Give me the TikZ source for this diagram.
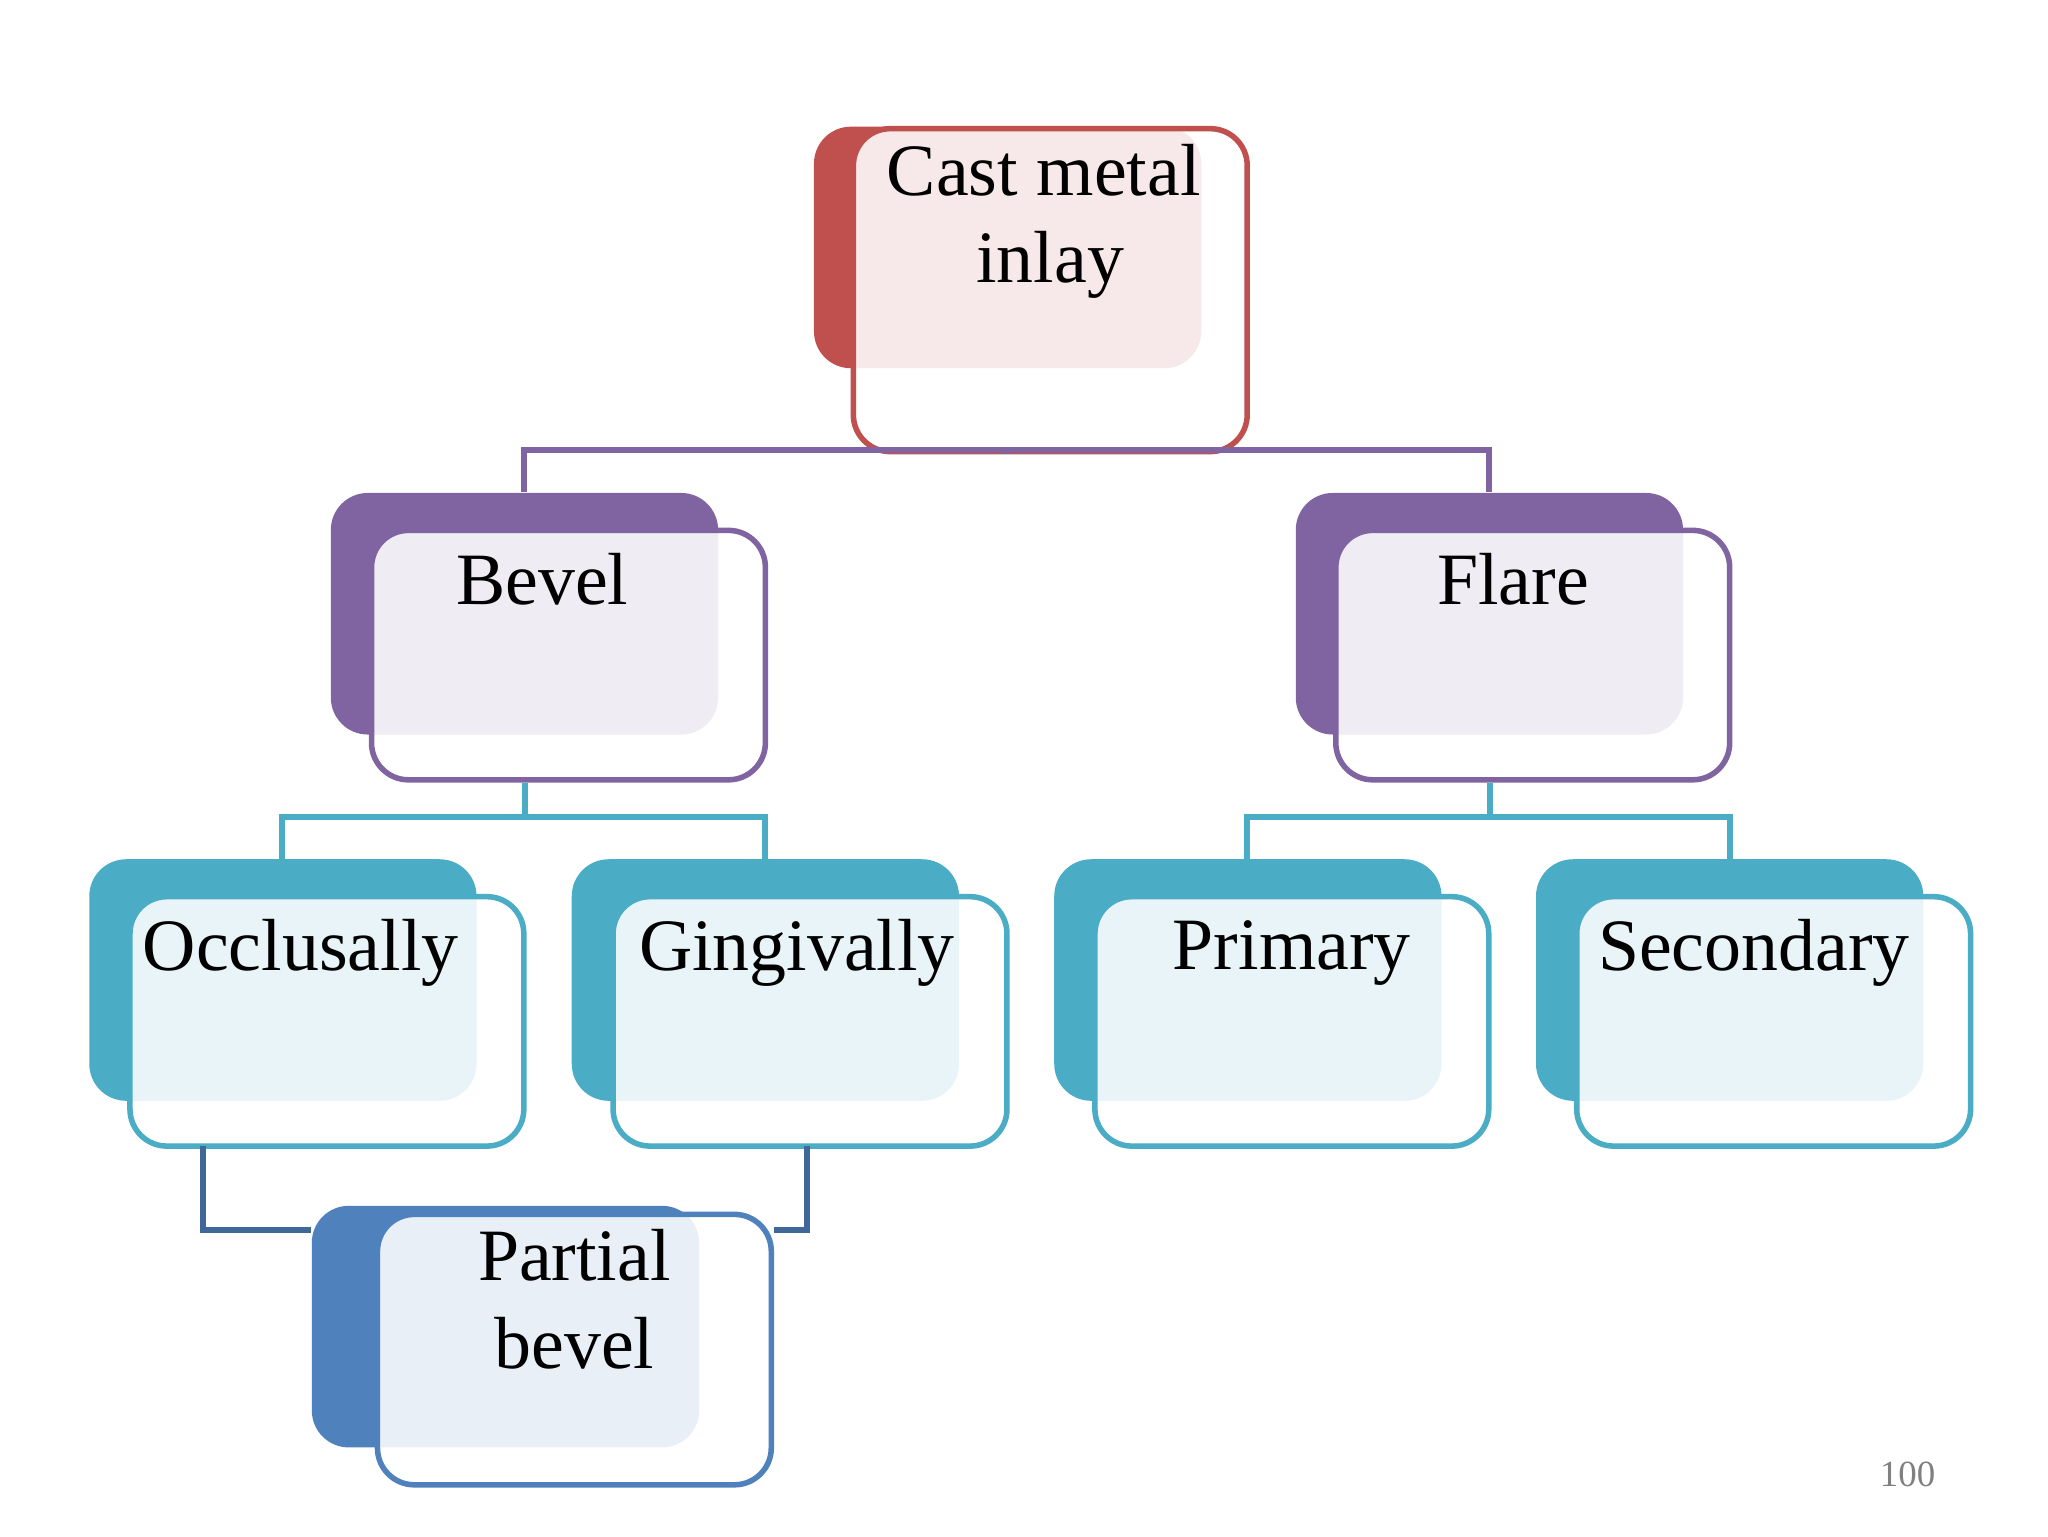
\documentclass[tikz,border=0pt]{standalone}
\usepackage{fontspec}
\setmainfont{Liberation Serif}
\definecolor{redC}{HTML}{C0504D}
\definecolor{purpC}{HTML}{8064A2}
\definecolor{tealC}{HTML}{4BACC6}
\definecolor{blueC}{HTML}{4F81BD}
\tikzset{
  back/.style={draw=none, fill=#1, rounded corners=8pt, minimum width=2.95cm, minimum height=1.84cm},
  front/.style={draw=#1, line width=1.2pt, fill=white, fill opacity=0.88, text opacity=1,
    rounded corners=8pt, minimum width=3.0cm, minimum height=1.9cm, align=center,
    font=\fontsize{16}{19}\selectfont},
  link/.style={draw=#1, line width=1.3pt}
}
\begin{document}
\begin{tikzpicture}
\useasboundingbox (0,0) rectangle (15.6,-11.7);
% back panels
\node[back=redC]  (cast-b) at (7.675,-1.885) {};
\node[back=purpC] (bevel-b) at (3.995,-4.675) {};
\node[back=purpC] (flare-b) at (11.345,-4.675) {};
\node[back=tealC] (occl-b) at (2.155,-7.465) {};
\node[back=tealC] (ging-b) at (5.83,-7.465) {};
\node[back=tealC] (prim-b) at (9.505,-7.465) {};
\node[back=tealC] (sec-b) at (13.175,-7.465) {};
\node[back=blueC] (part-b) at (3.85,-10.105) {};
% front panels
\node[front=redC]  (cast) at (8.0,-2.21) {\hspace*{-0.1cm}Cast metal\\inlay\\[0.5cm]};
\node[front=purpC] (bevel) at (4.33,-4.99) {\hspace*{-0.4cm}Bevel\\[0.5cm]};
\node[front=purpC] (flare) at (11.675,-4.99) {\hspace*{-0.3cm}Flare\\[0.5cm]};
\node[front=tealC] (occl) at (2.49,-7.78) {\hspace*{-0.4cm}Occlusally\\[0.5cm]};
\node[front=tealC] (ging) at (6.17,-7.78) {\hspace*{-0.2cm}Gingivally\\[0.5cm]};
\node[front=tealC] (prim) at (9.84,-7.78) {Primary\\[0.5cm]};
\node[front=tealC] (sec) at (13.51,-7.78) {\hspace*{-0.3cm}Secondary\\[0.5cm]};
\node[front=blueC] (part) at (4.375,-10.28) {Partial\\bevel\\[0.1cm]};
\node[text=gray, font=\fontsize{8}{10}\selectfont] (page) at (14.53,-11.23) {100};
% connectors
\coordinate (j1) at (7.67,-3.43);
\draw[link=purpC] (cast.south -| j1) -- (j1) -| (bevel-b.north);
\draw[link=purpC] (j1) -| (flare-b.north);
\coordinate (j2) at (4.0,-6.22);
\draw[link=tealC] (bevel.south -| j2) -- (j2) -| (2.15,-6.55);
\draw[link=tealC] (j2) -| (5.83,-6.55);
\coordinate (j3) at (11.35,-6.22);
\draw[link=tealC] (flare.south -| j3) -- (j3) -| (9.5,-6.55);
\draw[link=tealC] (j3) -| (13.18,-6.55);
\draw[link=blueC!80!black] (1.55,-8.73) |- (part-b.west |- 0,-9.37);
\draw[link=blueC!80!black] (6.15,-8.73) |- (part.east |- 0,-9.37);
\end{tikzpicture}
\end{document}
